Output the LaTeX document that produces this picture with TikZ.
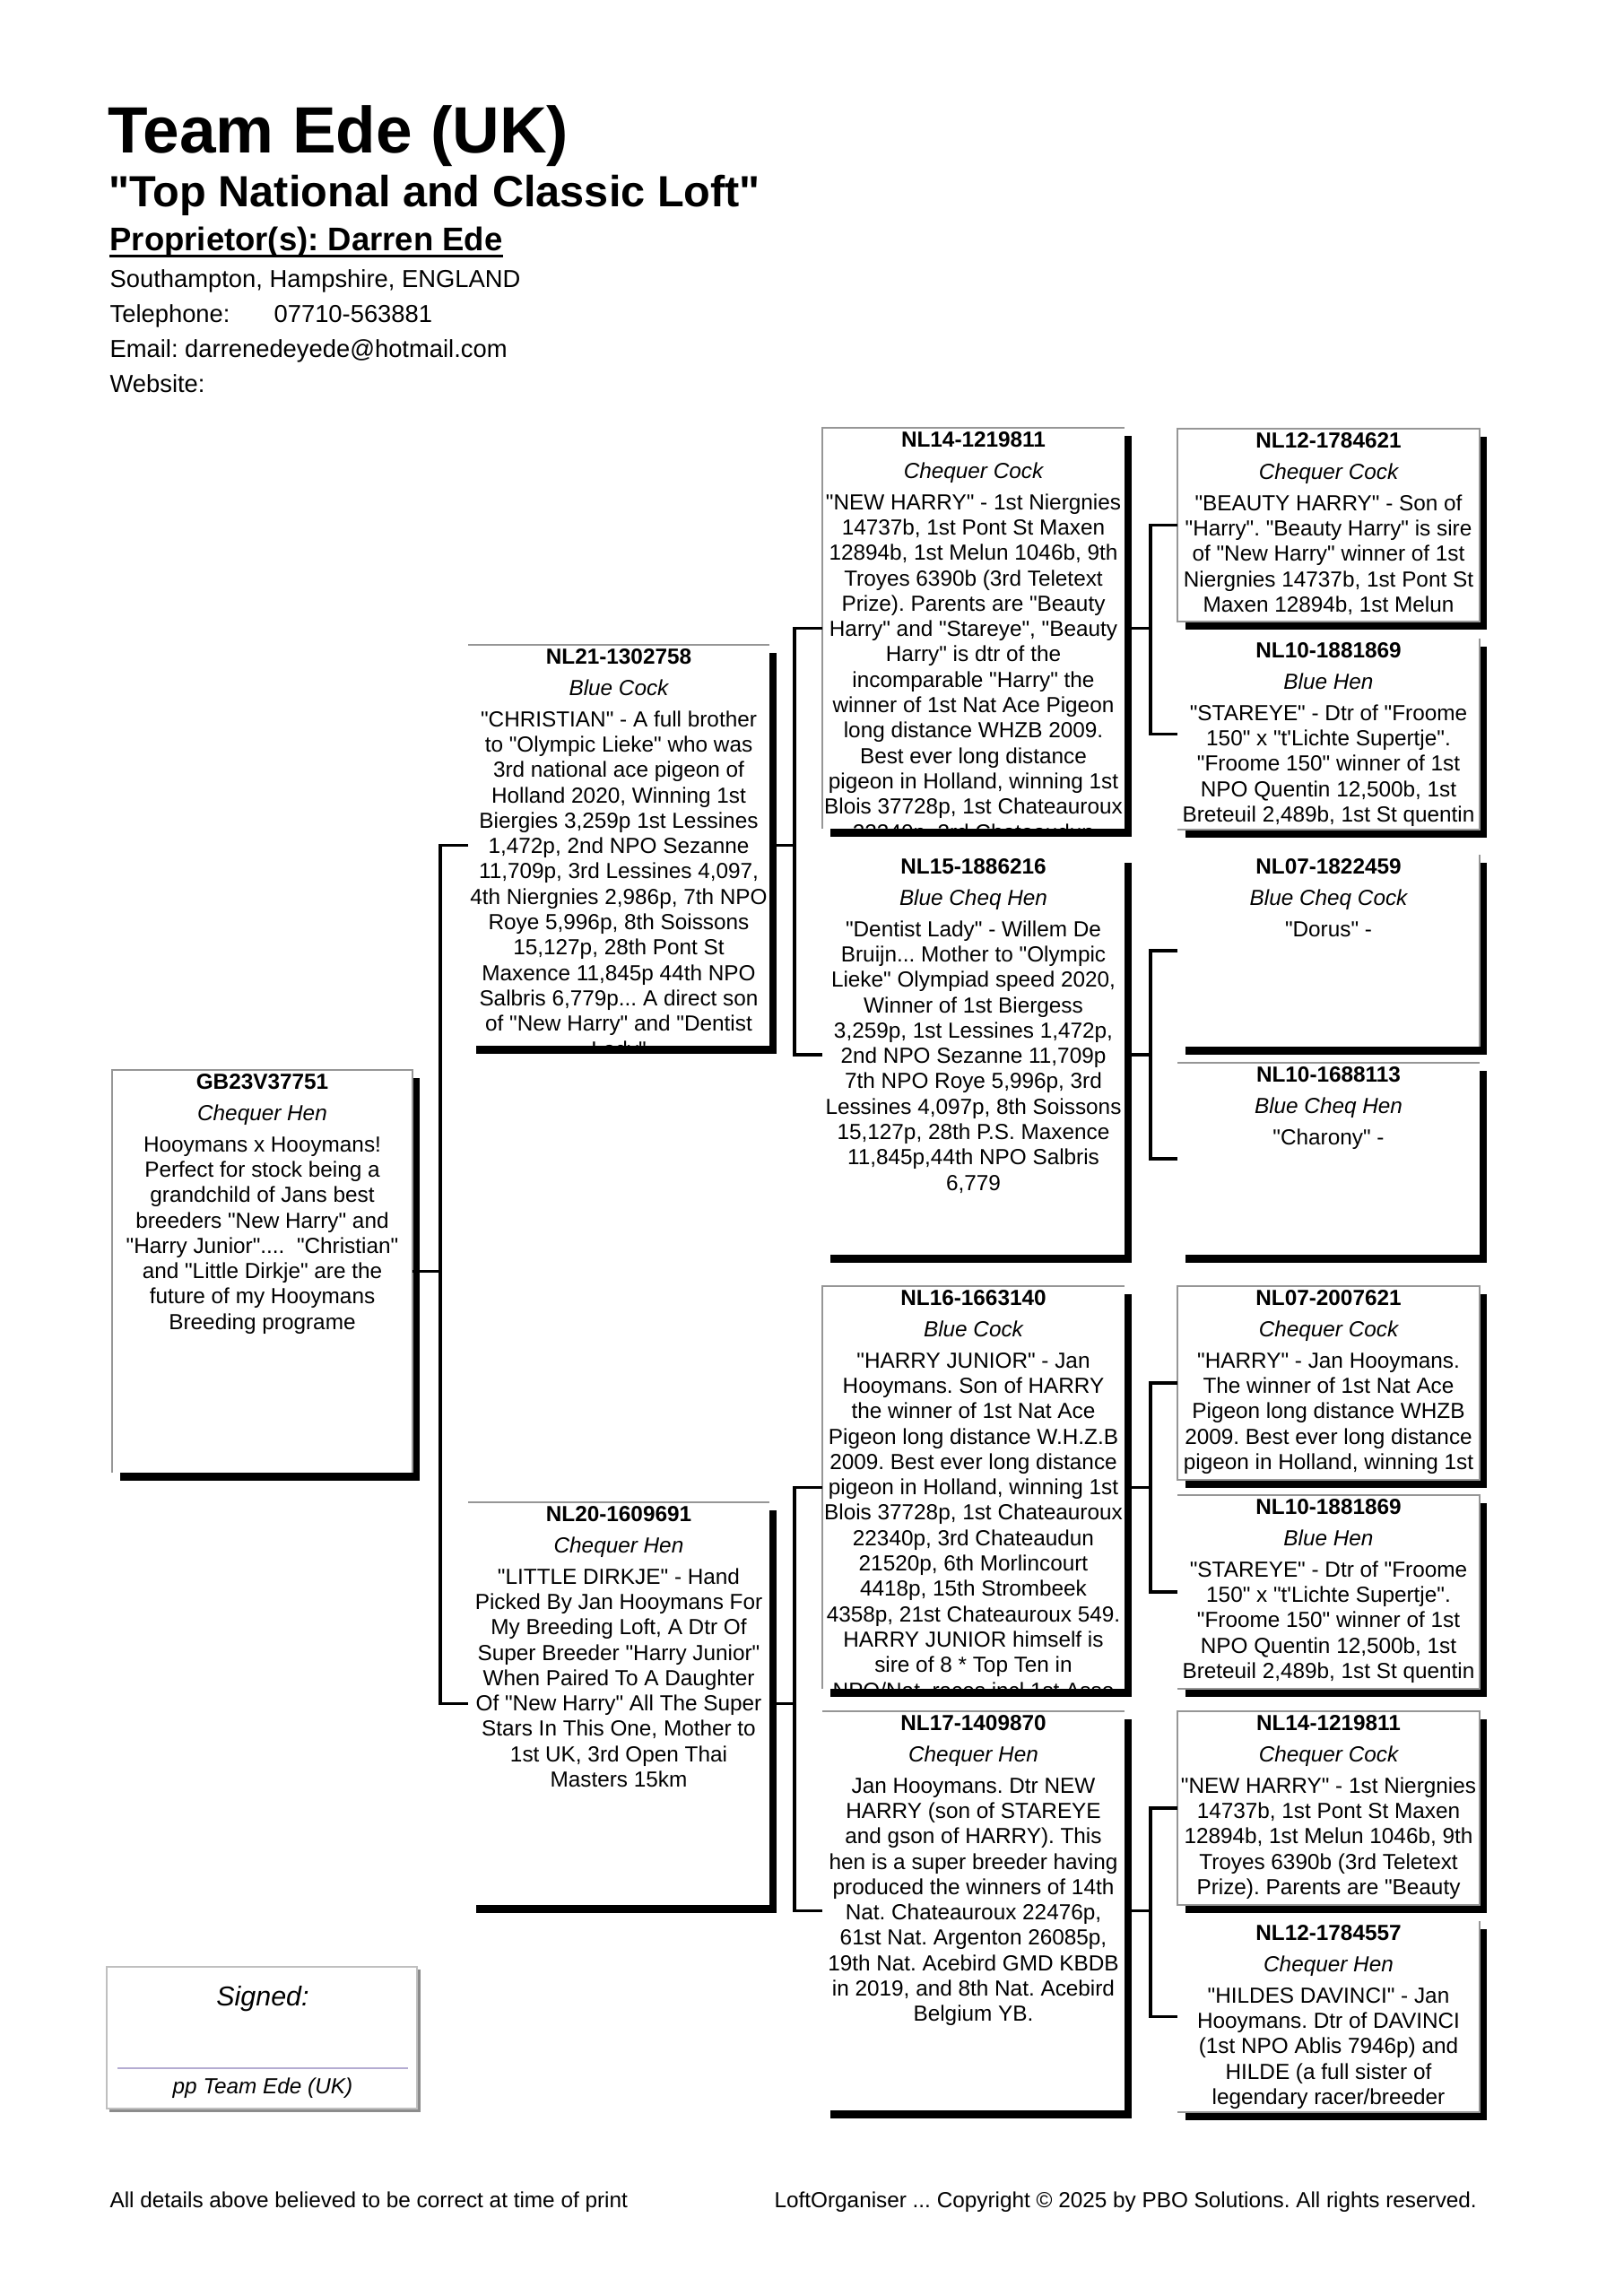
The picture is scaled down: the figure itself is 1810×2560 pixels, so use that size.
\documentclass[tikz,border=0pt]{standalone}
\usepackage{fontspec}
\newfontfamily\arial{Liberation Sans}
\frenchspacing
\tikzset{
  pboxnode/.style={fill=white, draw=none, inner sep=0pt, outer sep=0pt, anchor=north west},
  ptext/.style={font=\arial\frenchspacing\fontsize{8pt}{9.31pt}\selectfont, align=center, inner sep=0pt, anchor=north},
  hair/.style={draw={rgb,255:red,150;green,150;blue,150}, line width=0.35pt},
  conn/.style={line width=1.1pt, line join=miter},
  shadowfill/.style={fill=black},
  hdr/.style={anchor=base west, inner sep=0pt, font=\arial\frenchspacing\fontsize{9pt}{11pt}\selectfont},
  foot/.style={anchor=base west, inner sep=0pt, font=\arial\frenchspacing\fontsize{8pt}{10pt}\selectfont}
}
\newcommand\pedbox[8]{%
  \fill[shadowfill] (#2+9,#3+9) rectangle (#2+#4+8,#3+#5+9);
  \node[pboxnode, minimum width={#4*0.32888pt}, minimum height={#5*0.32888pt}] (#1) at (#2,#3) {};
  \begin{scope}
    \clip (#2-30,#3) rectangle (#2+#4+30,#3+#5);
    \node[ptext] (#1-t) at (#2+#4/2,#3+3.5) {{\bfseries #6}\\[2.2pt]{\itshape #7}\\[2.2pt]#8};
  \end{scope}
}
\begin{document}
\begin{tikzpicture}[x=0.32888pt, y=-0.32888pt]
\useasboundingbox (0,0) rectangle (1810,2560);
\fill[white] (0,0) rectangle (1810,2560);

% header
\node[anchor=base west, inner sep=0pt, font=\arial\bfseries\fontsize{24pt}{28pt}\selectfont] (title) at (120,170) {Team Ede (UK)};
\node[anchor=base west, inner sep=0pt, font=\arial\bfseries\fontsize{16pt}{19pt}\selectfont] (subtitle) at (121,230) {"Top National and Classic Loft"};
\node[anchor=base west, inner sep=0pt, font=\arial\frenchspacing\bfseries\fontsize{12pt}{14pt}\selectfont] (prop) at (122,279) {Proprietor(s): Darren Ede};
\draw[line width=0.9pt] ([yshift=-2.1pt]prop.base west) -- ([yshift=-2.1pt]prop.base east);
\node[hdr] (addr) at (122,320) {Southampton, Hampshire, ENGLAND};
\node[hdr] (tel) at (122,359) {Telephone:};
\node[hdr] (telnum) at (305,359) {07710-563881};
\node[hdr] (email) at (122,398) {Email: darrenedeyede@hotmail.com};
\node[hdr] (web) at (122,437) {Website:};

% generation 0
\pedbox{subj}{125}{1193}{335}{449}{GB23V37751}{Chequer Hen}{Hooymans x Hooymans!\\Perfect for stock being a\\grandchild of Jans best\\breeders "New Harry" and\\"Harry Junior"....~ "Christian"\\and "Little Dirkje" are the\\future of my Hooymans\\Breeding programe}
\draw[hair] (subj.south west) -- (subj.north west) -- (subj.north east) -- (subj.south east);

% generation 1
\pedbox{s}{522}{719}{336}{447}{NL21-1302758}{Blue Cock}{"CHRISTIAN" - A full brother\\to "Olympic Lieke" who was\\3rd national ace pigeon of\\Holland 2020, Winning 1st\\Biergies 3,259p 1st Lessines\\1,472p, 2nd NPO Sezanne\\11,709p, 3rd Lessines 4,097,\\4th Niergnies 2,986p, 7th NPO\\Roye 5,996p, 8th Soissons\\15,127p, 28th Pont St\\Maxence 11,845p 44th NPO\\Salbris 6,779p... A direct son\\of "New Harry" and "Dentist\\Lady"}
\draw[hair] (s.north west) -- (s.north east);
\pedbox{d}{522}{1675}{336}{449}{NL20-1609691}{Chequer Hen}{"LITTLE DIRKJE" - Hand\\Picked By Jan Hooymans For\\My Breeding Loft, A Dtr Of\\Super Breeder "Harry Junior"\\When Paired To A Daughter\\Of "New Harry" All The Super\\Stars In This One, Mother to\\1st UK, 3rd Open Thai\\Masters 15km}
\draw[hair] (d.north west) -- (d.north east);

% generation 2
\pedbox{ss}{917}{477}{337}{447}{NL14-1219811}{Chequer Cock}{"NEW HARRY" - 1st Niergnies\\14737b, 1st Pont St Maxen\\12894b, 1st Melun 1046b, 9th\\Troyes 6390b (3rd Teletext\\Prize). Parents are "Beauty\\Harry" and "Stareye", "Beauty\\Harry" is dtr of the\\incomparable "Harry" the\\winner of 1st Nat Ace Pigeon\\long distance WHZB 2009.\\Best ever long distance\\pigeon in Holland, winning 1st\\Blois 37728p, 1st Chateauroux\\22340p, 3rd Chateaudun}
\draw[hair] (ss.south west) -- (ss.north west) -- (ss.north east);
\pedbox{sd}{917}{953}{337}{446}{NL15-1886216}{Blue Cheq Hen}{"Dentist Lady" - Willem De\\Bruijn... Mother to "Olympic\\Lieke" Olympiad speed 2020,\\Winner of 1st Biergess\\3,259p, 1st Lessines 1,472p,\\2nd NPO Sezanne 11,709p\\7th NPO Roye 5,996p, 3rd\\Lessines 4,097p, 8th Soissons\\15,127p, 28th P.S. Maxence\\11,845p,44th NPO Salbris\\6,779}
\pedbox{ds}{917}{1434}{337}{449}{NL16-1663140}{Blue Cock}{"HARRY JUNIOR" - Jan\\Hooymans. Son of HARRY\\the winner of 1st Nat Ace\\Pigeon long distance W.H.Z.B\\2009. Best ever long distance\\pigeon in Holland, winning 1st\\Blois 37728p, 1st Chateauroux\\22340p, 3rd Chateaudun\\21520p, 6th Morlincourt\\4418p, 15th Strombeek\\4358p, 21st Chateauroux 549.\\HARRY JUNIOR himself is\\sire of 8 * Top Ten in\\NPO/Nat. races incl 1st Asso}
\draw[hair] (ds.south west) -- (ds.north west) -- (ds.north east);
\pedbox{dd}{917}{1908}{337}{445}{NL17-1409870}{Chequer Hen}{Jan Hooymans. Dtr NEW\\HARRY (son of STAREYE\\and gson of HARRY). This\\hen is a super breeder having\\produced the winners of 14th\\Nat. Chateauroux 22476p,\\61st Nat. Argenton 26085p,\\19th Nat. Acebird GMD KBDB\\in 2019, and 8th Nat. Acebird\\Belgium YB.}
\draw[hair] (dd.north west) -- (dd.north east);

% generation 3
\pedbox{sss}{1313}{478}{337}{215}{NL12-1784621}{Chequer Cock}{"BEAUTY HARRY" - Son of\\"Harry". "Beauty Harry" is sire\\of "New Harry" winner of 1st\\Niergnies 14737b, 1st Pont St\\Maxen 12894b, 1st Melun}
\draw[hair] (sss.north west) rectangle (sss.south east);
\pedbox{ssd}{1313}{712}{337}{213}{NL10-1881869}{Blue Hen}{"STAREYE" - Dtr of "Froome\\150" x "t'Lichte Supertje".\\"Froome 150" winner of 1st\\NPO Quentin 12,500b, 1st\\Breteuil 2,489b, 1st St quentin}
\draw[hair] (ssd.south west) -- (ssd.south east) -- (ssd.north east);
\pedbox{sds}{1313}{953}{337}{214}{NL07-1822459}{Blue Cheq Cock}{"Dorus" -}
\draw[hair] (sds.south east) -- (sds.north east);
\pedbox{sdd}{1313}{1185}{337}{214}{NL10-1688113}{Blue Cheq Hen}{"Charony" -}
\draw[hair] (sdd.north west) -- (sdd.north east);
\pedbox{dss}{1313}{1434}{337}{216}{NL07-2007621}{Chequer Cock}{"HARRY" - Jan Hooymans.\\The winner of 1st Nat Ace\\Pigeon long distance WHZB\\2009. Best ever long distance\\pigeon in Holland, winning 1st}
\draw[hair] (dss.north west) rectangle (dss.south east);
\pedbox{dsd}{1313}{1667}{337}{216}{NL10-1881869}{Blue Hen}{"STAREYE" - Dtr of "Froome\\150" x "t'Lichte Supertje".\\"Froome 150" winner of 1st\\NPO Quentin 12,500b, 1st\\Breteuil 2,489b, 1st St quentin}
\draw[hair] (dsd.north west) -- (dsd.north east) -- (dsd.south east) -- (dsd.south west);
\pedbox{dds}{1313}{1908}{337}{216}{NL14-1219811}{Chequer Cock}{"NEW HARRY" - 1st Niergnies\\14737b, 1st Pont St Maxen\\12894b, 1st Melun 1046b, 9th\\Troyes 6390b (3rd Teletext\\Prize). Parents are "Beauty}
\draw[hair] (dds.north west) rectangle (dds.south east);
\pedbox{ddd}{1313}{2142}{337}{213}{NL12-1784557}{Chequer Hen}{"HILDES DAVINCI" - Jan\\Hooymans. Dtr of DAVINCI\\(1st NPO Ablis 7946p) and\\HILDE (a full sister of\\legendary racer/breeder}
\draw[hair] (ddd.south west) -- (ddd.south east) -- (ddd.north east);

% connectors
\coordinate (c0) at (491,0);
\coordinate (c1) at (886,0);
\coordinate (c2) at (1283,0);
\draw[conn] (subj.east) -- (subj.east -| c0);
\draw[conn] (s.west) -| (c0 |- d.west) -- (d.west);
\draw[conn] (s.east) -- (s.east -| c1);
\draw[conn] (ss.west) -| (c1 |- sd.west) -- (sd.west);
\draw[conn] (d.east) -- (d.east -| c1);
\draw[conn] (ds.west) -| (c1 |- dd.west) -- (dd.west);
\draw[conn] (ss.east) -- (ss.east -| c2);
\draw[conn] (sss.west) -| (c2 |- ssd.west) -- (ssd.west);
\draw[conn] (sd.east) -- (sd.east -| c2);
\draw[conn] (sds.west) -| (c2 |- sdd.west) -- (sdd.west);
\draw[conn] (ds.east) -- (ds.east -| c2);
\draw[conn] (dss.west) -| (c2 |- dsd.west) -- (dsd.west);
\draw[conn] (dd.east) -- (dd.east -| c2);
\draw[conn] (dds.west) -| (c2 |- ddd.west) -- (ddd.west);

% signature box
\fill[black!45] (122,2196) rectangle (469,2355);
\node[pboxnode, draw=black!25, line width=0.4pt, minimum width={346*0.32888pt}, minimum height={158*0.32888pt}] (sig) at (119,2193) {};
\node[anchor=base, inner sep=0pt, font=\arial\itshape\fontsize{10pt}{12pt}\selectfont] (signed) at (293,2236) {Signed:};
\draw[draw={rgb,255:red,180;green,172;blue,210}, line width=0.5pt] (131,2306) -- (455,2306);
\node[anchor=base, inner sep=0pt, font=\arial\itshape\fontsize{8pt}{10pt}\selectfont] (pp) at (293,2334) {pp Team Ede (UK)};

% footer
\node[foot] (note) at (122,2461) {All details above believed to be correct at time of print};
\node[foot] (copy) at (863,2461) {LoftOrganiser ... Copyright © 2025 by PBO Solutions. All rights reserved.};
\end{tikzpicture}
\end{document}
